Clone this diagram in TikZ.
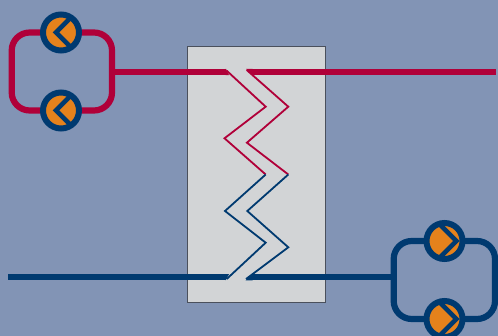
\documentclass[tikz,border=0pt]{standalone}
\usetikzlibrary{calc}
\definecolor{bgc}{HTML}{8294B5}
\definecolor{boxc}{HTML}{D2D4D6}
\definecolor{boxl}{HTML}{4A505C}
\definecolor{redc}{HTML}{B00039}
\definecolor{bluec}{HTML}{003A70}
\definecolor{orangec}{HTML}{E5821C}
\tikzset{
  pipe/.style={line width=6.2pt,line join=round},
  coil/.style={line width=1.8pt,line join=miter},
  exchanger/.style={draw=boxl,line width=0.9pt,fill=boxc,minimum width=138pt,minimum height=255.5pt,inner sep=0pt,outer sep=0pt},
  pumpbase/.style={circle,draw=bluec,line width=6pt,fill=orangec,minimum size=36pt,inner sep=0pt,outer sep=0pt},
  pumpleft/.style={pumpbase,path picture={
    \draw[bluec,line width=4.6pt,miter limit=10] ($(path picture bounding box.center)+(20,25)$) -- ($(path picture bounding box.center)+(-5,0)$) -- ($(path picture bounding box.center)+(20,-25)$);}},
  pumpright/.style={pumpbase,path picture={
    \draw[bluec,line width=4.6pt,miter limit=10] ($(path picture bounding box.center)+(-15,27)$) -- ($(path picture bounding box.center)+(11.8,0)$) -- ($(path picture bounding box.center)+(-15,-27)$);}}
}
\begin{document}
\begin{tikzpicture}[x=1pt,y=-1pt]
\useasboundingbox (0,0) rectangle (498,336);
\fill[bgc] (0,0) rectangle (498,336);
\node[exchanger] (hx) at (256.5,174.25) {};
% hot side
\coordinate (hotL) at (226,72);
\coordinate (hotR) at (252,72);
\coordinate (hotEnd) at (496,72);
\coordinate (hotLoop) at (112,72);
\coordinate (tl1) at (11.7,32.5);
\coordinate (tl2) at (112,32.5);
\coordinate (tl3) at (112,110.5);
\coordinate (tl4) at (11.7,110.5);
\draw[pipe,redc,rounded corners=18pt] (tl1) -- (tl2) -- (tl3) -- (tl4) -- cycle;
\draw[pipe,redc,line cap=butt] (hotLoop) -- (hotL);
\draw[pipe,redc,line cap=butt] (hotR) -- (hotEnd);
\fill[redc] (225.5,68.9) -- (226,68.9) -- (229,75.1) -- (225.5,75.1) -- cycle;
\fill[redc] (246,68.9) -- (252.5,75.1) -- (252.5,68.9) -- cycle;
% cold side
\coordinate (coldStart) at (8,277.2);
\coordinate (coldL) at (226,277.2);
\coordinate (coldR) at (252,277.2);
\coordinate (coldLoop) at (393.7,277.2);
\coordinate (br1) at (393.7,241);
\coordinate (br2) at (495,241);
\coordinate (br3) at (495,319);
\coordinate (br4) at (393.7,319);
\draw[pipe,bluec,rounded corners=18pt] (br1) -- (br2) -- (br3) -- (br4) -- cycle;
\draw[pipe,bluec,line cap=butt] (coldStart) -- (coldL);
\draw[pipe,bluec,line cap=butt] (coldR) -- (coldLoop);
\fill[bluec] (225.5,274.1) -- (229,274.1) -- (225.7,280.3) -- (225.5,280.3) -- cycle;
\fill[bluec] (252.5,274.1) -- (252.5,280.3) -- (245.5,280.3) -- cycle;
% coils
\coordinate (a1) at (226.7,70.7);
\coordinate (a2) at (265.7,106.7);
\coordinate (a3) at (224.5,138.3);
\coordinate (a4) at (265.7,174.5);
\coordinate (a5) at (225,211);
\coordinate (a6) at (265.7,242.7);
\coordinate (a7) at (226.7,279);
\coordinate (b1) at (246.7,70);
\coordinate (b2) at (288.3,106.7);
\coordinate (b3) at (246.9,142.7);
\coordinate (b4) at (288.3,174.5);
\coordinate (b5) at (247.3,211);
\coordinate (b6) at (288.3,247.3);
\coordinate (b7) at (246,279);
\draw[coil,redc] (a1) -- (a2) -- (a3) -- (a4);
\draw[coil,redc] (b1) -- (b2) -- (b3) -- (b4);
\draw[coil,bluec] (a4) -- (a5) -- (a6) -- (a7);
\draw[coil,bluec] (b4) -- (b5) -- (b6) -- (b7);
% pumps
\node[pumpleft] (p1) at (61,32.5) {};
\node[pumpleft] (p2) at (61,110.5) {};
\node[pumpright] (p3) at (444.5,241) {};
\node[pumpright] (p4) at (444.5,319) {};
\end{tikzpicture}
\end{document}
